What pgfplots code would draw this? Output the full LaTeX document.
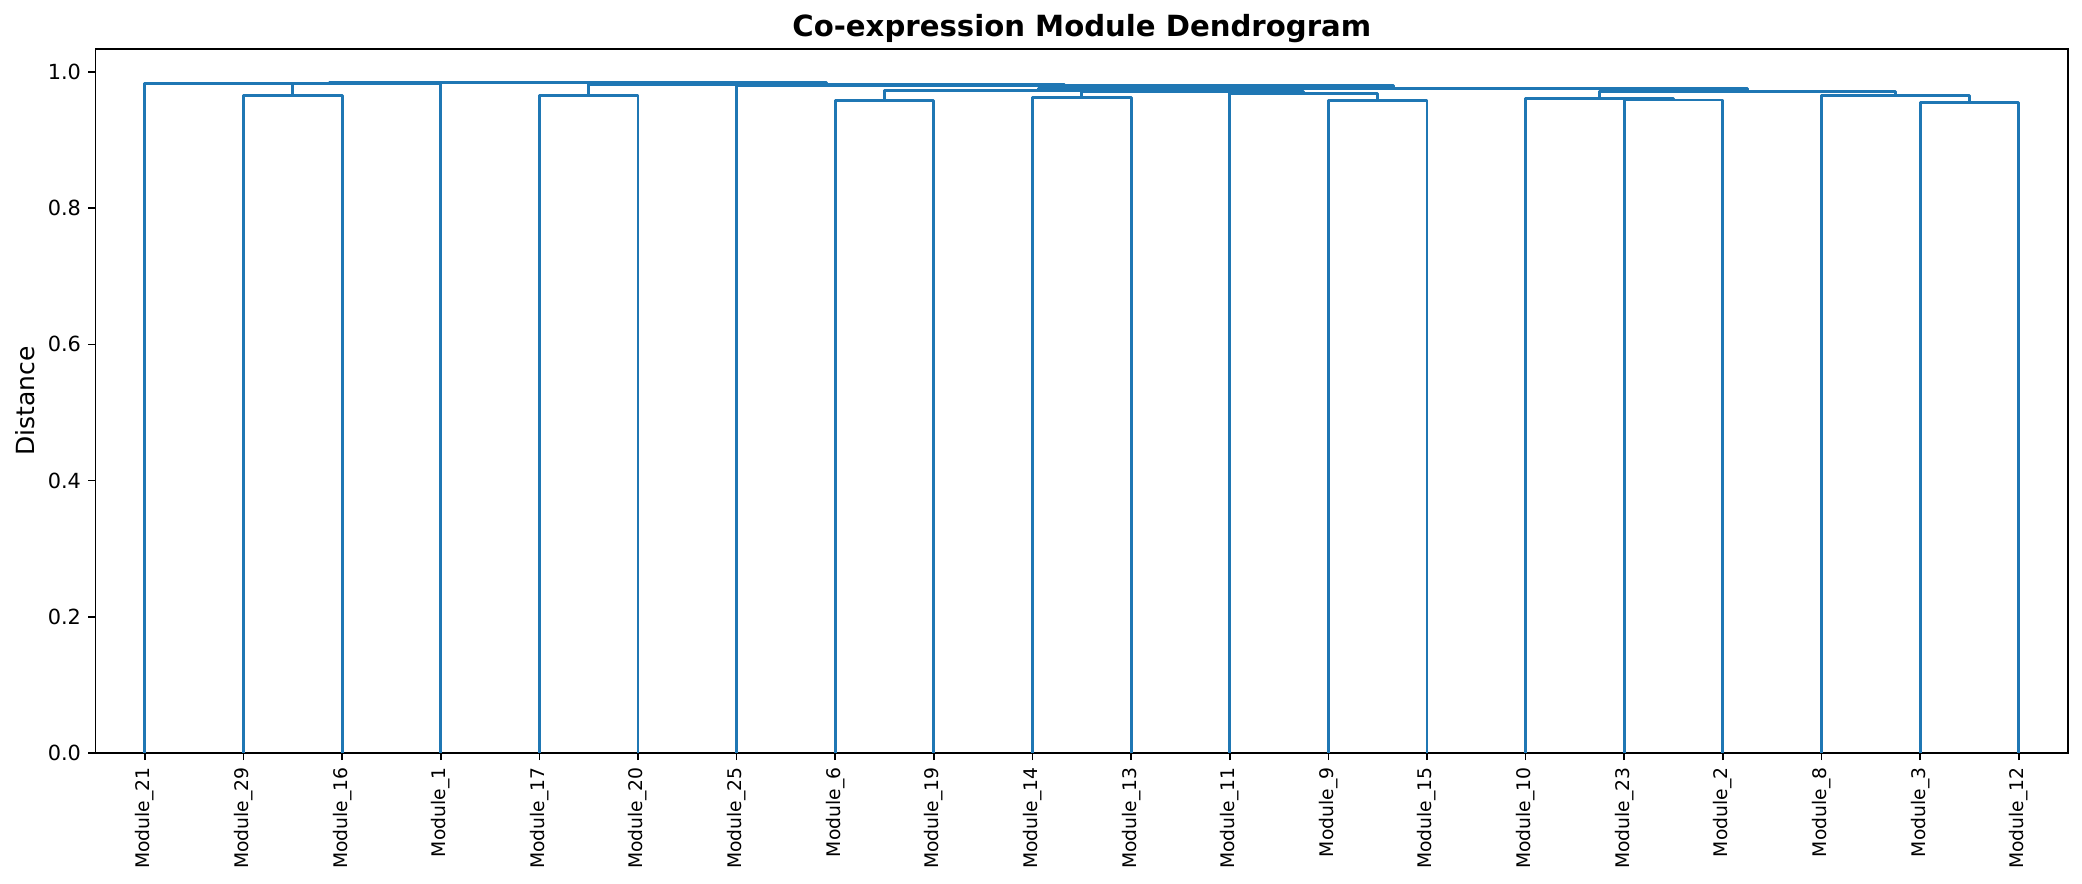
\documentclass[border=0pt]{standalone}
\usepackage{pgfplots}
\pgfplotsset{compat=1.18}
\usepackage{fontspec}
\setmainfont{DejaVu Sans}
\definecolor{dcol}{RGB}{31,119,180}
\tikzset{dl/.style={color=dcol, line width=1.4pt, line join=round, solid, mark=none}}
\begin{document}
\begin{tikzpicture}
\path[use as bounding box] (-45.9pt,-62.9pt) rectangle (953.5pt,361.4pt);
\begin{axis}[
  at={(0,0)}, anchor=south west,
  scale only axis, width=946.8pt, height=337.9pt,
  xmin=0, xmax=200, ymin=0, ymax=1.034,
  axis line style={line width=0.8pt},
  tick align=outside, major tick length=3.5pt,
  tick style={line width=0.8pt, black},
  xtick pos=bottom, ytick pos=left,
  xtick={5,15,...,195},
  xticklabels={Module\_21,Module\_29,Module\_16,Module\_1,Module\_17,Module\_20,Module\_25,Module\_6,Module\_19,Module\_14,Module\_13,Module\_11,Module\_9,Module\_15,Module\_10,Module\_23,Module\_2,Module\_8,Module\_3,Module\_12},
  x tick label style={rotate=90, anchor=east, font=\fontsize{9}{10}\selectfont},
  ytick={0,0.2,0.4,0.6,0.8,1.0},
  y tick label style={font=\fontsize{10}{12}\selectfont},
  yticklabel style={/pgf/number format/.cd, fixed, fixed zerofill, precision=1, assume math mode=true},
  ylabel={Distance},
  ylabel style={at={(axis description cs:0,0.5)}, anchor=center, yshift=33.9pt, font=\fontsize{12}{14}\selectfont},
]
% (M29,M16)
\addplot[dl] coordinates {(15,0) (15,0.966) (25,0.966) (25,0)};
% M21 + (M29,M16)
\addplot[dl] coordinates {(5,0) (5,0.9826) (20,0.9826) (20,0.966)};
% + M1
\addplot[dl] coordinates {(12.5,0.9826) (12.5,0.9838) (35,0.9838) (35,0)};
% (M17,M20)
\addplot[dl] coordinates {(45,0) (45,0.965) (55,0.965) (55,0)};
% (M6,M19)
\addplot[dl] coordinates {(75,0) (75,0.958) (85,0.958) (85,0)};
% (M14,M13)
\addplot[dl] coordinates {(95,0) (95,0.962) (105,0.962) (105,0)};
% (M9,M15)
\addplot[dl] coordinates {(125,0) (125,0.958) (135,0.958) (135,0)};
% M11 + (M9,M15)
\addplot[dl] coordinates {(115,0) (115,0.9686) (130,0.9686) (130,0.958)};
% (M14,M13) + (M11,(M9,M15))
\addplot[dl] coordinates {(100,0.962) (100,0.9711) (122.5,0.9711) (122.5,0.9686)};
% (M6,M19) + ...
\addplot[dl] coordinates {(80,0.958) (80,0.973) (111.25,0.973) (111.25,0.9711)};
% (M23,M2)
\addplot[dl] coordinates {(155,0) (155,0.959) (165,0.959) (165,0)};
% M10 + (M23,M2)
\addplot[dl] coordinates {(145,0) (145,0.9615) (160,0.9615) (160,0.959)};
% (M3,M12)
\addplot[dl] coordinates {(185,0) (185,0.956) (195,0.956) (195,0)};
% M8 + (M3,M12)
\addplot[dl] coordinates {(175,0) (175,0.966) (190,0.966) (190,0.956)};
% right cluster
\addplot[dl] coordinates {(152.5,0.9615) (152.5,0.9717) (182.5,0.9717) (182.5,0.966)};
% middle + right
\addplot[dl] coordinates {(95.625,0.973) (95.625,0.9756) (167.5,0.9756) (167.5,0.9717)};
% M25 + ...
\addplot[dl] coordinates {(65,0) (65,0.9802) (131.5625,0.9802) (131.5625,0.9756)};
% (M17,M20) + ...
\addplot[dl] coordinates {(50,0.965) (50,0.9819) (98.28,0.9819) (98.28,0.9802)};
% root
\addplot[dl] coordinates {(23.75,0.9838) (23.75,0.9848) (74.14,0.9848) (74.14,0.9819)};
\end{axis}
\node[anchor=base, font=\fontsize{14}{16}\selectfont\bfseries] at ([yshift=6pt]current axis.north) {Co-expression Module Dendrogram};
\end{tikzpicture}
\end{document}
